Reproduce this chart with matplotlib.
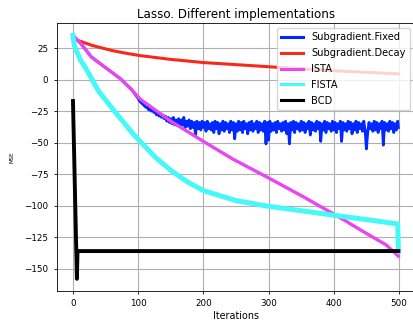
import matplotlib
matplotlib.use('Agg')
import matplotlib.pyplot as plt
from matplotlib.ticker import MultipleLocator

# values
ista_it = [0, 13, 28, 46, 72, 90, 103, 150, 200, 245, 300, 350, 408, 450, 480, 499]
ista_mse = [35, 28, 18, 11, 1, -8, -15.5, -33, -49, -63, -78, -92, -109, -122, -131, -140]

sub_fixed_it = [0, 13, 28, 46, 72, 90] + list(range(100, 500, 2)) + [499]
sub_fixed_mse = [35, 28, 18, 11, 1, -8,
                 -15, -17, -18, -19, -20, -21, -22, -22, -24, -23,
                 -25, -24, -26, -25, -28, -26, -29, -27, -30, -28,
                 -31, -29, -33, -30, -34, -31, -35, -30, -36, -32,
                 -35, -31, -37, -32, -36, -30, -38, -33, -37, -32,
                 -39, -33, -38, -34, -44, -33, -39, -34, -40, -33,
                 -38, -34, -41, -33, -39, -35, -40, -34, -42, -33,
                 -39, -34, -43, -35, -40, -33, -41, -34, -39, -35,
                 -42, -33, -40, -34, -47, -35, -41, -33, -40, -34,
                 -42, -33, -39, -35, -43, -34, -40, -33, -41, -35,
                 -39, -33, -42, -34, -40, -35, -41, -33, -51, -34,
                 -48, -33, -41, -35, -40, -34, -42, -33, -39, -35,
                 -41, -34, -40, -33, -43, -35, -51, -34, -40, -33,
                 -42, -34, -39, -35, -41, -33, -40, -34, -42, -35,
                 -39, -33, -44, -34, -40, -35, -41, -33, -39, -34,
                 -49, -35, -40, -33, -42, -34, -39, -35, -41, -33,
                 -40, -34, -42, -35, -39, -33, -49, -34, -40, -35,
                 -41, -33, -39, -34, -43, -35, -40, -33, -42, -34,
                 -39, -35, -41, -33, -40, -55, -42, -34, -39, -35,
                 -41, -33, -40, -34, -42, -35, -39, -33, -52, -34,
                 -40, -35, -41, -33, -39, -34, -42, -35, -40, -33,
                 -38]

sub_decay_it = [0, 5, 16, 30, 45, 60, 80, 103, 150, 200, 312, 400, 499]
sub_decay_mse = [34, 31.5, 29.5, 27, 25, 23, 21, 19, 16, 13.5, 9.8, 7, 4.5]

fista_it = [0, 2, 11, 23, 39, 62, 92, 125, 150, 175, 200, 250, 300, 350, 400, 450, 498, 499]
fista_mse = [35, 27, 16, 6, -9, -24, -43, -61, -72, -81, -88, -96, -100.5, -104, -107.6, -111, -114.5, -136]

bcd_it = [0, 6, 7, 499]
bcd_mse = [-17, -158, -136, -136]

fig = plt.figure(figsize=(4.13, 3.21), dpi=100)
ax = fig.add_axes([0.1373, 0.0935, 0.8666, 0.834])

ax.plot(sub_fixed_it, sub_fixed_mse, color='#0028ff', lw=2.0, label='Subgradient.Fixed')
ax.plot(sub_decay_it, sub_decay_mse, color='#f52a1a', lw=2.2, label='Subgradient.Decay')
ax.plot(ista_it, ista_mse, color='#e846f0', lw=2.4, label='ISTA')
ax.plot(fista_it, fista_mse, color='#46f8f8', lw=3.6, label='FISTA')
ax.plot(bcd_it, bcd_mse, color='black', lw=2.8, label='BCD')

ax.xaxis.set_major_locator(MultipleLocator(100))
ax.yaxis.set_major_locator(MultipleLocator(25))
ax.grid(True, color='#b0b0b0', lw=0.8)
ax.tick_params(labelsize=6.3, length=2.5, width=0.6)
for s in ax.spines.values():
    s.set_linewidth(0.6)

ax.set_title('Lasso. Different implementations', fontsize=8.6, pad=4)
ax.set_xlabel('Iterations', fontsize=6.9, labelpad=2)
ax.set_ylabel('MSE', fontsize=4, labelpad=7)

leg = ax.legend(loc='upper right', fontsize=7.1, handlelength=2.3, borderpad=0.4,
                labelspacing=0.6, borderaxespad=0.5)
for line in leg.get_lines():
    line.set_linewidth(2.2)

plt.savefig('out.png', dpi=100)
plt.close()
